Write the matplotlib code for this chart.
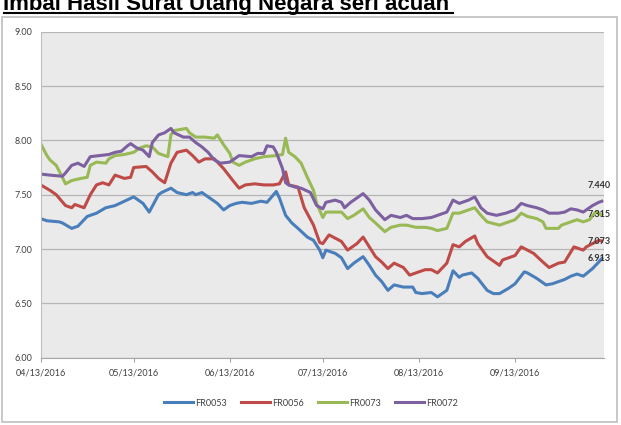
import pandas as pd
import matplotlib
matplotlib.use("Agg")
import matplotlib.pyplot as plt
import matplotlib.dates as mdates
from matplotlib.patches import Rectangle
from matplotlib.lines import Line2D

start = pd.Timestamp("2016-04-13")

# days since 04/13/2016 and yields
days_fr0053 = [0, 2, 6, 7, 10, 12, 15, 18, 21, 24, 27, 30, 33, 35, 38, 39, 42, 44, 47, 49,
               50, 52, 54, 57, 59, 61, 63, 65, 68, 71, 73, 76, 77, 79, 81, 83, 86, 88, 90, 91,
               92, 95, 97, 99, 101, 104, 106, 108, 110, 112, 114, 117, 120, 121, 123, 126, 128, 131, 133, 135,
               136, 139, 141, 144, 146, 148, 151, 153, 156, 157, 160, 163, 165, 169, 171, 173, 175, 178, 180, 181]
fr0053 = [7.28, 7.26, 7.25, 7.24, 7.19, 7.21, 7.30, 7.33, 7.38, 7.40, 7.44, 7.48, 7.42, 7.34, 7.50, 7.52, 7.56, 7.52, 7.50, 7.52,
          7.50, 7.52, 7.48, 7.42, 7.36, 7.40, 7.42, 7.43, 7.42, 7.44, 7.43, 7.53, 7.47, 7.31, 7.24, 7.19, 7.11, 7.08, 6.99, 6.92,
          6.99, 6.96, 6.92, 6.82, 6.87, 6.93, 6.85, 6.76, 6.70, 6.62, 6.67, 6.65, 6.65, 6.60, 6.59, 6.60, 6.56, 6.62, 6.80, 6.74,
          6.76, 6.78, 6.73, 6.62, 6.59, 6.59, 6.64, 6.68, 6.79, 6.78, 6.73, 6.67, 6.68, 6.72, 6.75, 6.77, 6.75, 6.82, 6.88, 6.913]

days_fr0056 = [0, 3, 5, 8, 10, 11, 14, 16, 18, 20, 22, 24, 27, 29, 30, 34, 36, 38, 40, 42,
               44, 47, 49, 51, 53, 56, 57, 59, 62, 64, 66, 69, 72, 75, 77, 79, 80, 83, 85, 88,
               90, 91, 93, 95, 97, 99, 102, 104, 106, 108, 110, 112, 114, 117, 119, 121, 124, 126, 128, 131,
               133, 135, 137, 140, 141, 144, 148, 149, 153, 155, 157, 159, 162, 164, 167, 169, 172, 175, 176, 178,
               180, 181]
fr0056 = [7.59, 7.54, 7.50, 7.40, 7.38, 7.41, 7.38, 7.50, 7.59, 7.61, 7.59, 7.68, 7.65, 7.66, 7.75, 7.76, 7.71, 7.65, 7.61, 7.79,
          7.89, 7.91, 7.86, 7.80, 7.83, 7.83, 7.80, 7.74, 7.63, 7.56, 7.59, 7.60, 7.59, 7.59, 7.60, 7.71, 7.59, 7.57, 7.38, 7.22,
          7.06, 7.05, 7.13, 7.10, 7.07, 6.99, 7.05, 7.11, 7.02, 6.93, 6.88, 6.82, 6.87, 6.83, 6.76, 6.78, 6.81, 6.81, 6.78, 6.87,
          7.04, 7.02, 7.07, 7.12, 7.05, 6.93, 6.85, 6.90, 6.94, 7.02, 6.99, 6.96, 6.88, 6.83, 6.87, 6.88, 7.02, 6.99, 7.02, 7.05,
          7.08, 7.073]

days_fr0073 = [0, 2, 3, 5, 7, 8, 10, 13, 15, 16, 18, 21, 22, 24, 27, 30, 32, 34, 36, 38,
               41, 42, 43, 47, 48, 50, 53, 56, 57, 59, 61, 62, 64, 66, 69, 72, 76, 78, 79, 80,
               82, 84, 86, 88, 89, 91, 92, 95, 97, 99, 101, 104, 106, 108, 111, 113, 116, 118, 121, 124,
               126, 128, 131, 133, 135, 138, 140, 142, 144, 148, 150, 153, 155, 157, 160, 162, 163, 167, 168, 171,
               173, 175, 177, 179, 181]
fr0073 = [7.97, 7.86, 7.82, 7.77, 7.66, 7.60, 7.63, 7.65, 7.66, 7.77, 7.80, 7.79, 7.83, 7.86, 7.87, 7.89, 7.93, 7.95, 7.94, 7.88,
          7.85, 8.05, 8.09, 8.11, 8.07, 8.03, 8.03, 8.02, 8.05, 7.96, 7.88, 7.80, 7.77, 7.80, 7.83, 7.85, 7.86, 7.87, 8.02, 7.89,
          7.85, 7.79, 7.66, 7.54, 7.42, 7.29, 7.34, 7.34, 7.34, 7.28, 7.31, 7.37, 7.29, 7.24, 7.16, 7.20, 7.22, 7.22, 7.20, 7.20,
          7.19, 7.17, 7.19, 7.33, 7.33, 7.36, 7.38, 7.31, 7.25, 7.22, 7.24, 7.27, 7.33, 7.30, 7.28, 7.25, 7.19, 7.19, 7.22, 7.25,
          7.27, 7.25, 7.27, 7.34, 7.315]

days_fr0072 = [0, 3, 7, 8, 10, 12, 14, 16, 19, 22, 24, 26, 28, 29, 31, 33, 35, 36, 38, 40,
               42, 43, 46, 48, 50, 52, 54, 56, 58, 61, 64, 68, 70, 72, 73, 75, 76, 78, 79, 80,
               82, 84, 87, 89, 91, 92, 95, 97, 98, 100, 104, 106, 108, 111, 113, 116, 118, 120, 123, 126,
               128, 131, 133, 135, 138, 140, 142, 144, 147, 150, 153, 155, 157, 160, 162, 164, 167, 169, 171, 173,
               175, 178, 180, 181]
fr0072 = [7.69, 7.68, 7.67, 7.70, 7.77, 7.79, 7.76, 7.85, 7.86, 7.87, 7.89, 7.90, 7.95, 7.97, 7.93, 7.91, 7.85, 7.98, 8.05, 8.07,
          8.11, 8.07, 8.03, 8.03, 7.98, 7.94, 7.89, 7.82, 7.79, 7.80, 7.86, 7.85, 7.88, 7.88, 7.95, 7.94, 7.89, 7.74, 7.61, 7.59,
          7.57, 7.56, 7.52, 7.40, 7.37, 7.43, 7.45, 7.43, 7.38, 7.43, 7.51, 7.45, 7.36, 7.27, 7.31, 7.29, 7.31, 7.28, 7.28, 7.29,
          7.31, 7.34, 7.45, 7.42, 7.45, 7.48, 7.38, 7.33, 7.31, 7.33, 7.36, 7.42, 7.40, 7.38, 7.36, 7.33, 7.33, 7.34, 7.37, 7.36,
          7.34, 7.40, 7.43, 7.44]

series = [("FR0053", days_fr0053, fr0053, "#4A7EBB", "6.913", 0),
          ("FR0056", days_fr0056, fr0056, "#BE4B48", "7.073", 0),
          ("FR0073", days_fr0073, fr0073, "#98B954", "7.315", 0),
          ("FR0072", days_fr0072, fr0072, "#7D60A0", "7.440", 11)]

tick_dates = ["2016-04-13", "2016-05-13", "2016-06-13", "2016-07-13", "2016-08-13", "2016-09-13"]
y_ticks = [6.00, 6.50, 7.00, 7.50, 8.00, 8.50, 9.00]

plt.rcParams["font.family"] = ["Lato", "DejaVu Sans"]

fig = plt.figure(figsize=(6.21, 4.25), dpi=100)
W, H = 621, 425

# chart frame (behind the axes)
fig.patches.append(Rectangle((2 / W, 1 - 422 / H), 615 / W, 405 / H, transform=fig.transFigure,
                             facecolor="white", edgecolor="#BFBFBF", lw=1.2, zorder=-5))

# cropped title at the very top
fig.text(3 / W, 1 - 10 / H, "Imbal Hasil Surat Utang Negara seri acuan", fontsize=16,
         fontweight="bold", family=["Liberation Sans", "DejaVu Sans"], va="baseline", ha="left")
fig.lines.append(Line2D([4 / W, 453 / W], [1 - 13 / H, 1 - 13 / H], transform=fig.transFigure,
                        color="black", lw=1.5))

ax = fig.add_axes([40.7 / W, 1 - 357.7 / H, (604 - 40.7) / W, (357.7 - 31.7) / H])
ax.set_facecolor("#EAEAEA")

for name, days, vals, color, label, dy in series:
    dates = start + pd.to_timedelta(days, unit="D")
    ax.plot(dates, vals, color=color, lw=2.2, label=name, solid_joinstyle="round")
    ax.annotate(label, (dates[-1], vals[-1]), xytext=(-2, dy), textcoords="offset points",
                ha="center", va="center", fontsize=6.5, fontweight="bold", color="#333333")

ax.set_ylim(6.0, 9.0)
ax.set_xlim(start, start + pd.Timedelta(days=181.7))
ax.set_yticks(y_ticks)
ax.set_yticklabels(["%.2f" % v for v in y_ticks])
ax.set_xticks(pd.to_datetime(tick_dates))
ax.xaxis.set_major_formatter(mdates.DateFormatter("%m/%d/%Y"))
ax.grid(axis="y", color="#B5B5B5", lw=0.9)
ax.set_axisbelow(True)
for s in ["top", "right"]:
    ax.spines[s].set_visible(False)
ax.spines["left"].set_color("#BFBFBF")
ax.spines["bottom"].set_color("#A6A6A6")
ax.tick_params(axis="y", length=0, labelsize=6.5, labelcolor="#404040", pad=6)
ax.tick_params(axis="x", length=3, color="#A6A6A6", labelsize=6.5, labelcolor="#404040", pad=5)

fig.legend(loc="center", bbox_to_anchor=(311 / W, 1 - 403 / H), ncol=4, frameon=False,
           fontsize=6.5, handlelength=3.2, handletextpad=0.2, columnspacing=1.6,
           labelcolor="#404040")

fig.savefig("out.png", dpi=100)
